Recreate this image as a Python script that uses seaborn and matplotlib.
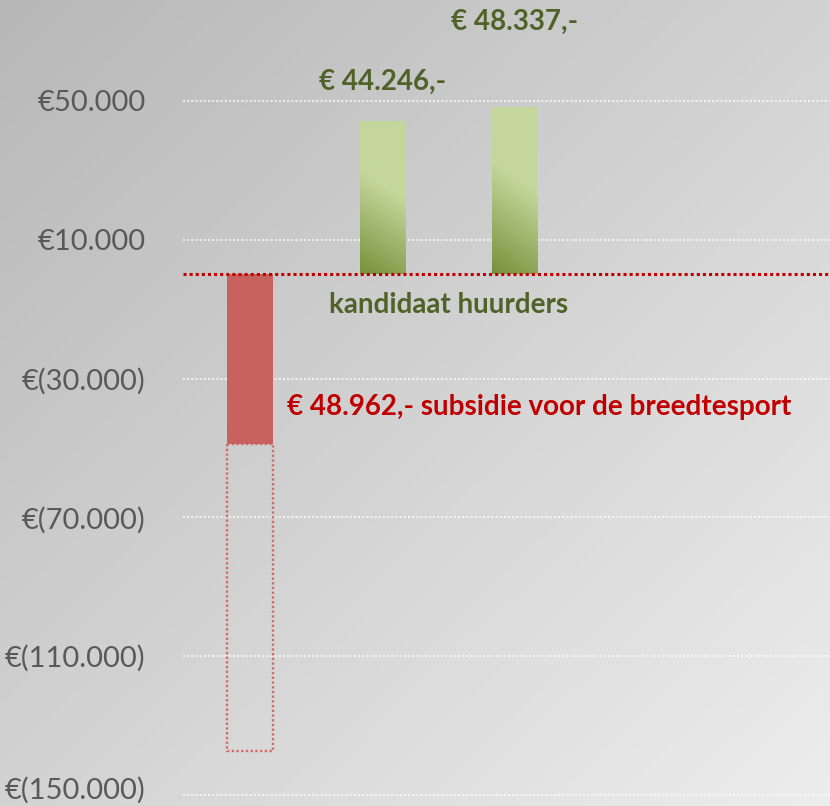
import numpy as np
import pandas as pd
import matplotlib
matplotlib.use("Agg")
import matplotlib.pyplot as plt
import matplotlib.transforms as mtransforms
import seaborn as sns
from matplotlib.colors import to_rgb

# ---------------- data ----------------
categories = ["Breedtesport", "Kandidaat huurder 1", "Kandidaat huurder 2"]
values = [-48962, 44246, 48337]
outline_category = ["Breedtesport"]
outline_total = [-137300]
tick_values = [50000, 10000, -30000, -70000, -110000, -150000]
tick_labels = ["€50.000", "€10.000", "€(30.000)", "€(70.000)", "€(110.000)", "€(150.000)"]
value_labels = ["€ 44.246,-", "€ 48.337,-"]
group_label = "kandidaat huurders"
subsidy_label = "€ 48.962,- subsidie voor de breedtesport"

# ---------------- style ----------------
plt.rcParams["font.family"] = ["Lato", "DejaVu Sans"]
GREEN_TXT = "#4f6228"
RED_TXT = "#c00000"
RED_BAR = "#c8625f"
GREEN_LIGHT = "#c4d79b"
GREEN_DARK = "#76913a"

fig = plt.figure(figsize=(8.3, 8.06), dpi=100)

# background gradient
bg = fig.add_axes([0, 0, 1, 1], zorder=-5)
gx, gy = np.meshgrid(np.linspace(0, 1, 300), np.linspace(0, 1, 300))
shade = 0.72 + 0.21 * (0.5 * gx + 0.5 * gy)
bg.imshow(np.dstack([shade] * 3), extent=[0, 1, 1, 0], aspect="auto", interpolation="bilinear")
bg.set_xlim(0, 1)
bg.set_ylim(1, 0)
bg.axis("off")

ax = fig.add_axes([0.2205, 0.0, 0.7795, 1.0])
ax.set_facecolor("none")

df = pd.DataFrame({"cat": categories, "val": values})
palette = {categories[0]: RED_BAR, categories[1]: GREEN_LIGHT, categories[2]: GREEN_LIGHT}
sns.barplot(data=df, x="cat", y="val", hue="cat", order=categories, hue_order=categories,
            palette=palette, width=0.347, legend=False, ax=ax, linewidth=0,
            saturation=1, zorder=3)
main_patches = list(ax.patches)

# dotted outline segment (remaining cost below subsidy)
df_out = pd.DataFrame({"cat": outline_category, "val": outline_total})
sns.barplot(data=df_out, x="cat", y="val", order=categories, color="white",
            width=0.347, ax=ax, zorder=2, saturation=1)
out_patch = ax.patches[-1]
out_patch.set_y(values[0])
out_patch.set_height(outline_total[0] - values[0])
out_patch.set_facecolor("none")
out_patch.set_edgecolor("#d46a6a")
out_patch.set_linestyle((0, (1, 1)))
out_patch.set_linewidth(1.7)

# gradient fill for green bars
light = np.array(to_rgb(GREEN_LIGHT))
dark = np.array(to_rgb(GREEN_DARK))
for p in main_patches[1:]:
    x0, w = p.get_x(), p.get_width()
    y0, h = p.get_y(), p.get_height()
    n = 200
    xf, yd = np.meshgrid(np.linspace(0, 1, n), np.linspace(0, 1, n))  # yd: 0 top -> 1 bottom
    pval = yd + 0.19 * (1 - xf)
    t = np.clip((pval - 0.52) / (1.19 - 0.52), 0, 1)
    img = light[None, None, :] * (1 - t[..., None]) + dark[None, None, :] * t[..., None]
    im = ax.imshow(img, extent=[x0, x0 + w, y0, y0 + h], origin="upper",
                   aspect="auto", zorder=4, interpolation="bilinear")
    im.set_clip_path(p)

# axes setup
ax.set_xlim(-0.506, 4.377)
ax.set_ylim(-153165, 79065)
ax.set_yticks(tick_values, tick_labels)
ax.tick_params(axis="y", length=0, pad=27, labelsize=21, labelcolor="#595959")
ax.tick_params(axis="x", length=0, labelbottom=False)
ax.set_xlabel("")
ax.set_ylabel("")
for s in ax.spines.values():
    s.set_visible(False)
ax.set_axisbelow(True)
ax.yaxis.grid(True, color="white", linestyle=(0, (1, 1)), linewidth=1.5, alpha=0.7, zorder=0)
ax.xaxis.grid(False)

# nudge the lowest tick label up a little so it stays inside the canvas
last_tick = ax.yaxis.get_major_ticks()[-1]
last_tick.label1.set_transform(
    last_tick.label1.get_transform()
    + mtransforms.ScaledTranslation(0, 5 / 72, fig.dpi_scale_trans))

# zero line
ax.axhline(0, color=RED_TXT, linestyle=(0, (1, 1)), linewidth=2.2, zorder=5)

# labels
label_y = [55500, 72700]
for i, (lab, ly) in enumerate(zip(value_labels, label_y)):
    ax.text(i + 1, ly, lab, ha="center", va="center", fontsize=20,
            fontweight="bold", color=GREEN_TXT)
ax.text(1.5, -8700, group_label, ha="center", va="center", fontsize=20,
        fontweight="bold", color=GREEN_TXT)
ax.text(0.28, -38100, subsidy_label, ha="left", va="center", fontsize=20,
        fontweight="bold", color=RED_TXT)

fig.savefig("out.png", dpi=100)
